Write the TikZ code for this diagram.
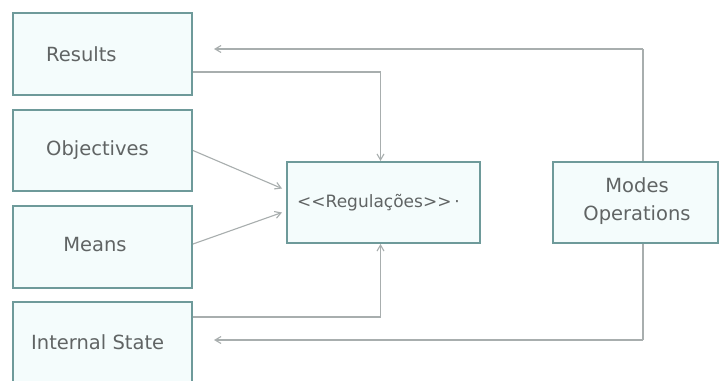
\documentclass[tikz,border=0pt]{standalone}
\usepackage{fontspec}
\setmainfont{DejaVu Sans}
\usetikzlibrary{arrows.meta}
\definecolor{boxline}{HTML}{6E9A9A}
\definecolor{boxfill}{HTML}{F4FCFC}
\definecolor{conn}{HTML}{A8AEAE}
\definecolor{txt}{HTML}{606464}
\tikzset{
  box/.style={draw=boxline, line width=2pt, fill=boxfill, inner sep=0pt},
  lbl/.style={text=txt, font=\fontsize{19.5}{23}\selectfont, inner sep=0pt},
  conn/.style={draw=conn, line width=1.1pt},
  arr/.style={conn, -{Straight Barb[length=6pt,width=7pt]}},
}
\begin{document}
\begin{tikzpicture}[x=1pt,y=-1pt]
\useasboundingbox (0,0) rectangle (722,380);
\clip (0,0) rectangle (722,380);
\fill[white] (0,0) rectangle (722,380);
% boxes
\node[box, minimum width=179pt, minimum height=82pt] (res) at (102.5,54) {};
\node[box, minimum width=179pt, minimum height=81pt] (obj) at (102.5,150.5) {};
\node[box, minimum width=179pt, minimum height=82pt] (mea) at (102.5,247) {};
\node[box, minimum width=179pt, minimum height=80pt] (int) at (102.5,342) {};
\node[box, minimum width=193pt, minimum height=81pt] (reg) at (383.5,202.5) {};
% loop coordinates
\coordinate (tr) at (643,49);
\coordinate (br) at (643,340);
\coordinate (resin) at (214,49);
\coordinate (intin) at (214,340);
\draw[conn] (tr) -- (br);
\draw[arr] (tr) -- (resin);
\draw[arr] (br) -- (intin);
\node[box, minimum width=165pt, minimum height=81pt] (mod) at (635.5,202.5) {};
% labels
\node[lbl, anchor=west] (tres) at (46,54) {Results};
\node[lbl, anchor=west] (tobj) at (46,150) {Objectives};
\node[lbl] (tmea) at (95,245) {Means};
\node[lbl, anchor=west] (tint) at (31,342) {Internal State};
\node[lbl, anchor=west, font=\fontsize{17}{20}\selectfont] (treg) at (297,203) {<{}<Regulações>{}>\,·};
\node[lbl, align=center, font=\fontsize{19.5}{28}\selectfont] (tmod) at (637,201) {Modes\\Operations};
% connectors
\draw[arr] ([yshift=-18pt]res.east) -| ([xshift=-3pt]reg.north);
\draw[arr] (obj.east) -- ([xshift=-4pt,yshift=14pt]reg.west);
\draw[arr] ([yshift=3pt]mea.east) -- ([xshift=-4pt,yshift=-10pt]reg.west);
\draw[arr] ([yshift=25pt]int.east) -| ([xshift=-3pt]reg.south);
\end{tikzpicture}
\end{document}
